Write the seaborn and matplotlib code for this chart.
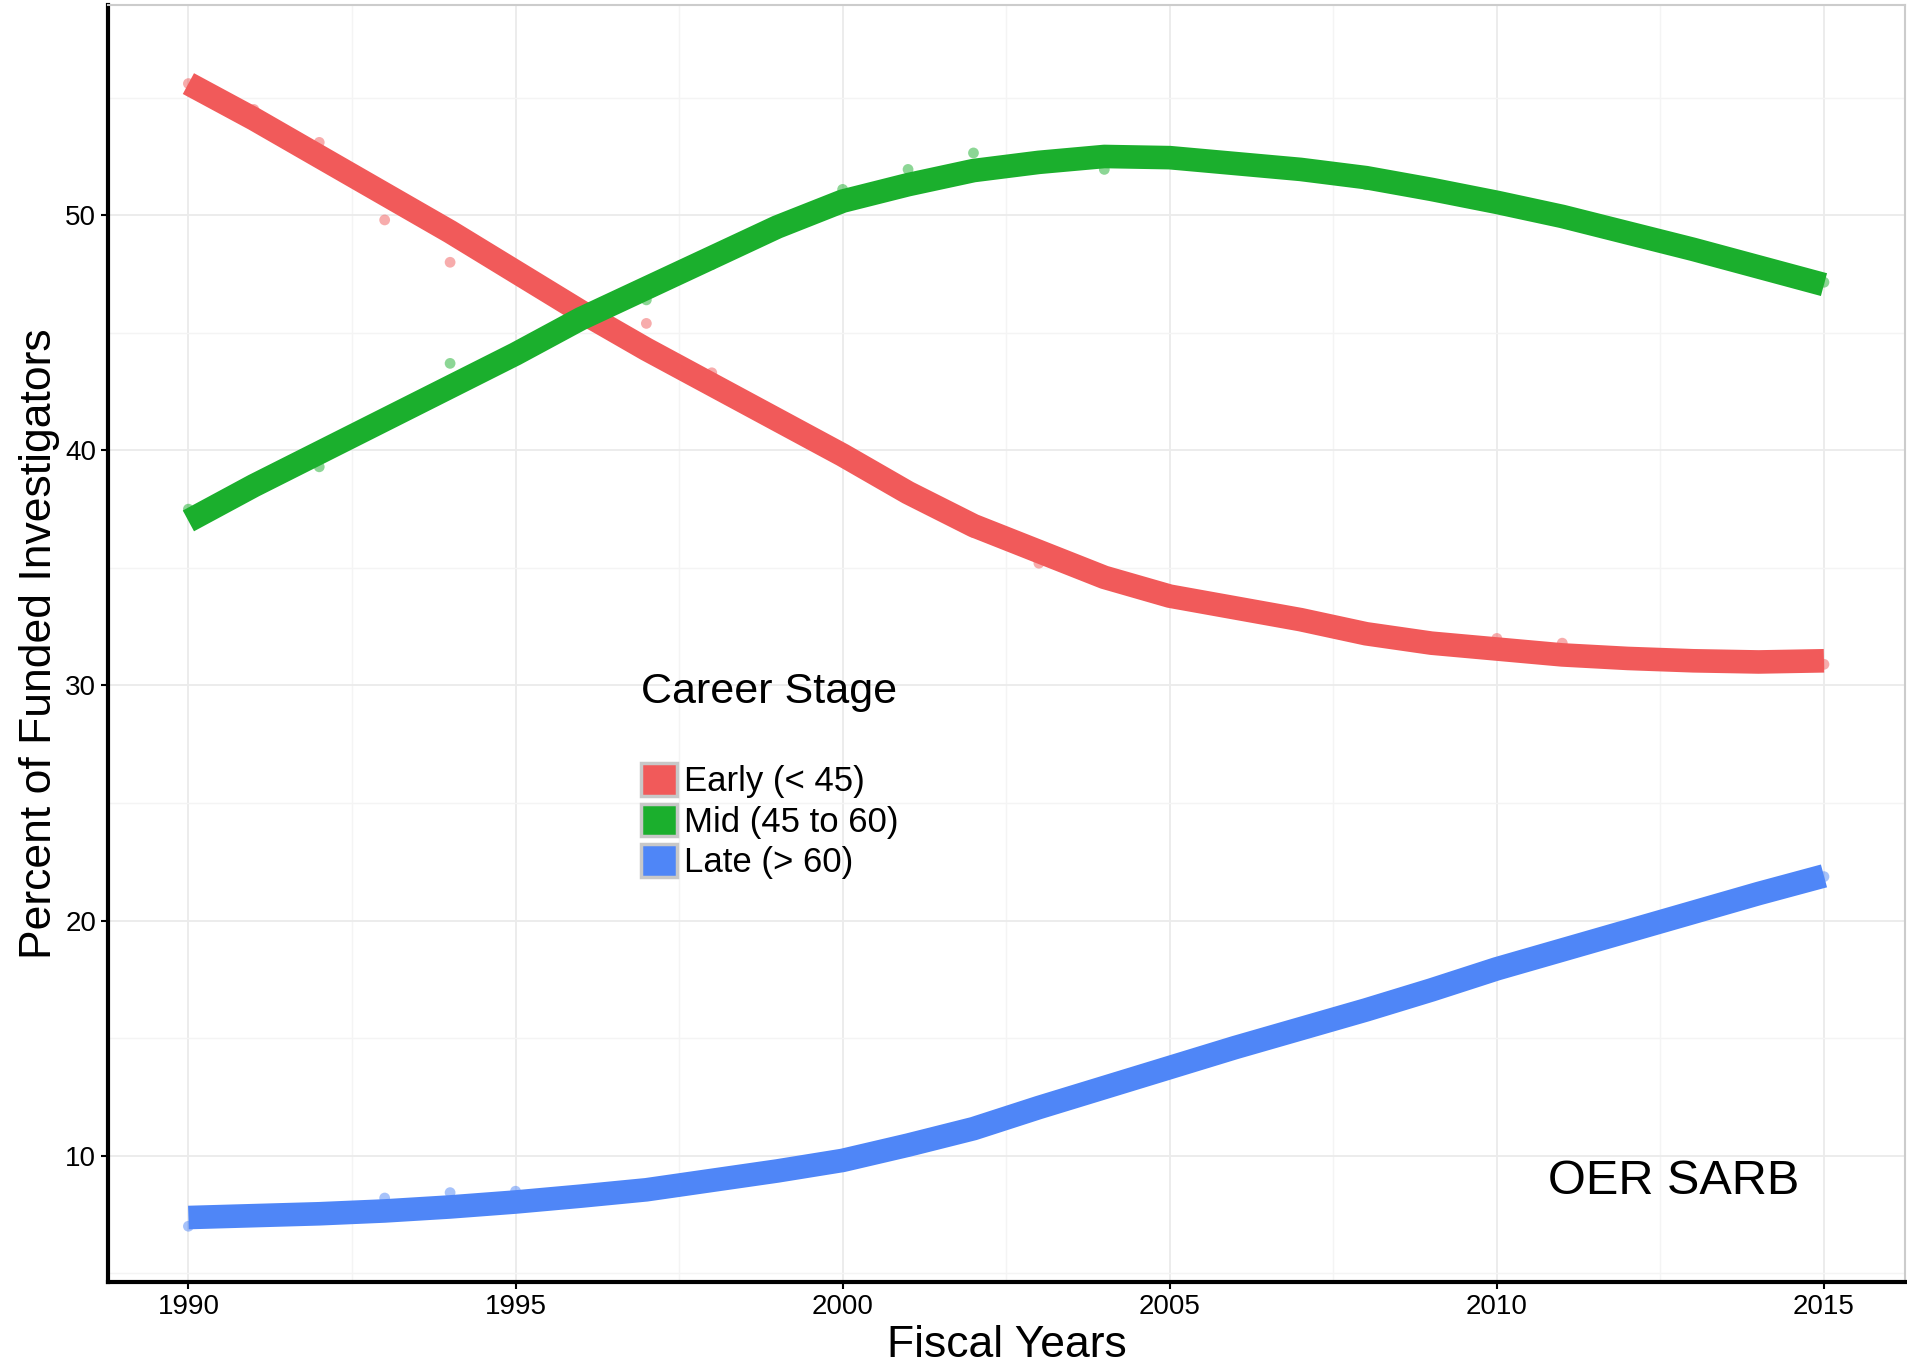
import matplotlib
matplotlib.use("Agg")
import matplotlib.pyplot as plt
import matplotlib.ticker as ticker
from matplotlib.patches import Patch
import numpy as np
import pandas as pd
import seaborn as sns

years = list(range(1990, 2016))
stages = ["Early (< 45)", "Mid (45 to 60)", "Late (> 60)"]

# smoothed (loess) curves
early_fit = [55.6, 54.1, 52.5, 50.9, 49.3, 47.6, 45.9, 44.3, 42.8, 41.3,
             39.8, 38.2, 36.8, 35.7, 34.6, 33.8, 33.3, 32.8, 32.2, 31.8,
             31.55, 31.3, 31.15, 31.05, 31.0, 31.05]
mid_fit = [37.0, 38.5, 39.9, 41.3, 42.7, 44.1, 45.6, 46.9, 48.2, 49.5,
           50.6, 51.3, 51.9, 52.25, 52.5, 52.45, 52.2, 51.95, 51.6, 51.1,
           50.55, 49.95, 49.25, 48.55, 47.8, 47.05]
late_fit = [7.37, 7.45, 7.53, 7.65, 7.82, 8.03, 8.28, 8.55, 8.95, 9.35,
            9.8, 10.45, 11.15, 12.05, 12.9, 13.75, 14.6, 15.4, 16.2, 17.05,
            17.95, 18.75, 19.55, 20.35, 21.15, 21.9]

# yearly observations
early_obs = [55.6, 54.5, 53.1, 49.8, 48.0, 47.4, 45.9, 45.4, 43.3, 41.3,
             39.8, 38.3, 36.5, 35.2, 34.6, 33.9, 33.3, 32.7, 32.2, 31.8,
             32.0, 31.8, 31.1, 31.0, 31.0, 30.9]
mid_obs = [37.5, 38.5, 39.3, 41.4, 43.7, 44.1, 45.8, 46.4, 47.9, 49.4,
           51.1, 51.95, 52.65, 52.3, 51.95, 52.4, 52.2, 51.9, 51.3, 51.1,
           50.5, 49.9, 49.2, 48.5, 47.8, 47.15]
late_obs = [7.0, 7.4, 7.5, 8.2, 8.43, 8.49, 8.3, 8.5, 8.9, 9.3,
            9.8, 10.4, 11.1, 12.0, 12.9, 13.7, 14.6, 15.4, 16.2, 17.0,
            17.9, 18.7, 19.5, 20.3, 21.1, 21.87]

colors = ["#F15A5A", "#1BAF2D", "#4F86F7"]
palette = dict(zip(stages, colors))

fit = pd.DataFrame({
    "year": years * 3,
    "pct": early_fit + mid_fit + late_fit,
    "stage": [s for s in stages for _ in years],
})
obs = pd.DataFrame({
    "year": years * 3,
    "pct": early_obs + mid_obs + late_obs,
    "stage": [s for s in stages for _ in years],
})

sns.set_style("white")
plt.rcParams["font.family"] = ["Liberation Sans", "DejaVu Sans"]
plt.rcParams["text.color"] = "black"
plt.rcParams["axes.labelcolor"] = "black"

fig = plt.figure(figsize=(19.07, 13.68), dpi=100)
ax = fig.add_axes([0.0566, 0.0629, 0.9424, 0.9334])

sns.scatterplot(data=obs, x="year", y="pct", hue="stage", palette=palette,
                s=60, alpha=0.5, linewidth=0, legend=False, ax=ax, zorder=2)
sns.lineplot(data=fit, x="year", y="pct", hue="stage", palette=palette,
             linewidth=17, legend=False, ax=ax, zorder=3,
             solid_capstyle="butt", solid_joinstyle="round")

ax.set_xlim(1988.77, 2016.24)
ax.set_ylim(4.63, 58.94)
ax.xaxis.set_major_locator(ticker.MultipleLocator(5))
ax.xaxis.set_minor_locator(ticker.MultipleLocator(2.5))
ax.yaxis.set_major_locator(ticker.MultipleLocator(10))
ax.yaxis.set_minor_locator(ticker.MultipleLocator(5))
ax.grid(which="major", color="#EBEBEB", linewidth=1.3)
ax.grid(which="minor", color="#F4F4F4", linewidth=1.0)
ax.set_axisbelow(True)

ax.tick_params(which="major", labelsize=20, length=5, width=1.5,
               color="black", labelcolor="black", direction="out",
               bottom=True, left=True)
ax.tick_params(which="minor", length=0)

for side in ["left", "bottom"]:
    ax.spines[side].set_color("black")
    ax.spines[side].set_linewidth(3)
for side in ["top", "right"]:
    ax.spines[side].set_color("#CCCCCC")
    ax.spines[side].set_linewidth(1.5)

ax.set_xlabel("Fiscal Years", fontsize=32, labelpad=4)
ax.set_ylabel("Percent of Funded Investigators", fontsize=32, labelpad=4)

fig.text(0.336, 0.4945, "Career Stage", fontsize=31, va="center", ha="left")
handles = [Patch(facecolor=c, edgecolor="#C8C8C8", linewidth=2.5) for c in colors]
fig.legend(handles, stages, loc="upper left", bbox_to_anchor=(0.336, 0.442),
           frameon=False, fontsize=25, handlelength=1.05, handleheight=1.05,
           labelspacing=0.16, handletextpad=0.2, borderpad=0, borderaxespad=0)

fig.text(0.8117, 0.136, "OER SARB", fontsize=35, va="center", ha="left")

fig.savefig("out.png", dpi=100)
